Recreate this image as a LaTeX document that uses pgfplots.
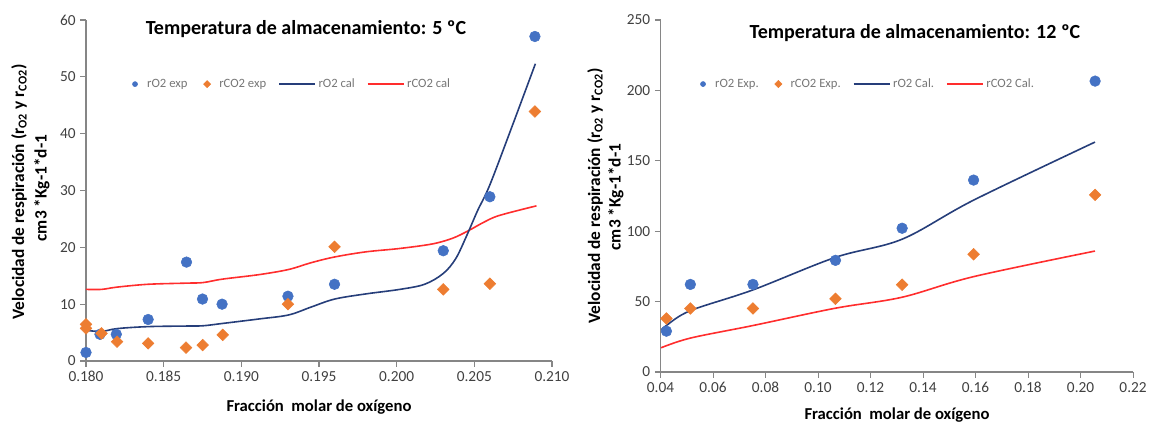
\documentclass[border=0pt]{standalone}
\usepackage{fontspec}
\setmainfont{Carlito}
\usepackage{pgfplots}
\pgfplotsset{compat=1.18}
\definecolor{dotblue}{RGB}{68,114,196}
\definecolor{dotorange}{RGB}{237,125,49}
\definecolor{lineblue}{RGB}{38,62,122}
\definecolor{linered}{RGB}{255,45,45}
\definecolor{axgray}{RGB}{134,134,134}
\definecolor{tickgray}{RGB}{64,64,64}
\definecolor{leggray}{RGB}{118,118,118}
\pgfplotsset{
  markleg/.style={legend image code/.code={\path[draw=none] (0cm,0cm) -- (0.45cm,0cm); \draw[##1,mark size=1.9pt] plot coordinates {(0.2cm,0cm)};}},
  lineleg/.style={legend image code/.code={\draw[##1] (0cm,0cm) -- (0.95cm,0cm);}},
  mystyle/.style={
    scale only axis, anchor=south west, clip=false,
    axis x line*=bottom, axis y line*=left,
    axis line style={axgray, line width=0.8pt},
    tick style={axgray, line width=0.8pt},
    tick align=outside, major tick length=4.3pt,
    ticklabel style={font=\fontsize{11.5}{13}\selectfont, text=tickgray},
    legend columns=4,
    legend cell align=left,
    legend style={draw=none, fill=none, anchor=center, inner sep=0pt,
      font=\fontsize{9.5}{11}\selectfont, text=leggray,
      /tikz/every even column/.append style={column sep=7pt}},
  },
  o2exp/.style={only marks, mark=*, mark size=4pt, color=dotblue, markleg},
  co2exp/.style={only marks, mark=square*, mark size=3.1pt, mark options={rotate=45}, color=dotorange, markleg},
  o2cal/.style={no marks, color=lineblue, line width=1.2pt, smooth, tension=0.55, lineleg},
  co2cal/.style={no marks, color=linered, line width=1.2pt, smooth, tension=0.55, lineleg},
}
\begin{document}
\begin{tikzpicture}
\path[use as bounding box] (0,0) rectangle (868.5pt,318.75pt);
% ---------------- Left chart: 5 C
\begin{axis}[mystyle,
  at={(64.5pt,48pt)}, width=349.5pt, height=255.75pt,
  xmin=0.18, xmax=0.21, ymin=0, ymax=60,
  xtick={0.18,0.185,0.19,0.195,0.2,0.205,0.21},
  xticklabels={0.180,0.185,0.190,0.195,0.200,0.205,0.210},
  ytick={0,10,20,30,40,50,60},
  yticklabels={0,10,20,30,40,50,60},
  legend style={at={(0.438,0.812)}},
]
\addplot[co2cal, forget plot] coordinates {
(0.1800,12.6) (0.1810,12.6) (0.1820,13.0) (0.1840,13.5) (0.18647,13.7) (0.18754,13.8)
(0.18877,14.4) (0.19115,15.2) (0.19304,16.1) (0.1945,17.3) (0.1960,18.3) (0.1980,19.2)
(0.2002,19.8) (0.2023,20.6) (0.2036,21.6) (0.2046,22.9) (0.2056,24.4) (0.2066,25.6) (0.2090,27.3)};
\addplot[o2cal, forget plot] coordinates {
(0.1800,5.4) (0.1810,5.2) (0.1820,5.7) (0.1840,6.05) (0.18647,6.15) (0.18754,6.2)
(0.18877,6.6) (0.19115,7.4) (0.19304,8.1) (0.1945,9.5) (0.19601,10.9)
(0.1980,11.8) (0.2002,12.6) (0.2018,13.5) (0.2030,15.4) (0.2038,18.0)
(0.2045,22.0) (0.2052,26.4) (0.2060,31.0) (0.2075,41.8) (0.20893,52.3)};
\addplot[o2exp] coordinates {
(0.1800,1.5) (0.1809,4.7) (0.18195,4.7) (0.1840,7.3) (0.18647,17.4) (0.1875,10.9)
(0.18876,10.0) (0.1930,11.4) (0.1960,13.5) (0.2030,19.4) (0.2060,28.9) (0.2089,57.1)};
\addplot[co2exp] coordinates {
(0.1800,6.45) (0.1800,5.75) (0.1810,4.85) (0.1820,3.4) (0.1840,3.1) (0.18644,2.35)
(0.18751,2.8) (0.1888,4.6) (0.1930,10.0) (0.1960,20.1) (0.2030,12.6) (0.2060,13.6) (0.2089,43.9)};
\addlegendimage{o2cal}
\addlegendimage{co2cal}
\legend{rO2 exp, rCO2 exp, rO2 cal, rCO2 cal}
\end{axis}
% ---------------- Right chart: 12 C
\begin{axis}[mystyle,
  at={(495.4pt,39.75pt)}, width=354.4pt, height=264pt,
  xmin=0.04, xmax=0.22, ymin=0, ymax=250,
  xtick={0.04,0.06,0.08,0.10,0.12,0.14,0.16,0.18,0.20,0.22},
  xticklabels={0.04,0.06,0.08,0.10,0.12,0.14,0.16,0.18,0.20,0.22},
  ytick={0,50,100,150,200,250},
  yticklabels={0,50,100,150,200,250},
  legend style={at={(0.435,0.818)}},
]
\addplot[co2cal, forget plot] coordinates {
(0.0402,17.2) (0.0514,24.1) (0.0752,33.0) (0.1066,45.3)
(0.1320,53.1) (0.1592,67.7) (0.2055,85.9)};
\addplot[o2cal, forget plot] coordinates {
(0.0404,30.0) (0.0422,33.0) (0.0514,43.6) (0.0752,58.3)
(0.1066,81.4) (0.1320,94.3) (0.1592,122.0) (0.2055,163.3)};
\addplot[o2exp] coordinates {
(0.04224,29.0) (0.05136,62.2) (0.07521,62.2) (0.10664,79.3) (0.13203,102.1) (0.15925,136.3) (0.20554,206.6)};
\addplot[co2exp] coordinates {
(0.04224,38.0) (0.05136,45.1) (0.07521,45.1) (0.10664,52.0) (0.13203,62.0) (0.15925,83.6) (0.20554,125.8)};
\addlegendimage{o2cal}
\addlegendimage{co2cal}
\legend{rO2 Exp., rCO2 Exp., rO2 Cal., rCO2 Cal.}
\end{axis}
% ---------------- Titles and labels
\node[font=\fontsize{15}{18}\selectfont\bfseries] at (229.5pt,297pt) {Temperatura de almacenamiento: 5 ºC};
\node[font=\fontsize{15}{18}\selectfont\bfseries] at (686.25pt,294pt) {Temperatura de almacenamiento: 12 ºC};
\node[font=\fontsize{12.5}{15}\selectfont\bfseries] at (239.25pt,13.5pt) {Fracción\ \ molar de oxígeno};
\node[font=\fontsize{12.5}{15}\selectfont\bfseries] at (672.75pt,7.5pt) {Fracción\ \ molar de oxígeno};
\node[font=\fontsize{13}{15}\selectfont\bfseries, rotate=90] at (14.25pt,174.75pt) {Velocidad de respiración (r\textsubscript{O2} y r\textsubscript{CO2})};
\node[font=\fontsize{13}{15}\selectfont\bfseries, rotate=90] at (31.5pt,177.75pt) {cm3 *Kg-1*d-1};
\node[font=\fontsize{13}{15}\selectfont\bfseries, rotate=90] at (446.25pt,171.75pt) {Velocidad de respiración (r\textsubscript{O2} y r\textsubscript{CO2})};
\node[font=\fontsize{13}{15}\selectfont\bfseries, rotate=90] at (462pt,171pt) {cm3 *Kg-1*d-1};
\end{tikzpicture}
\end{document}
